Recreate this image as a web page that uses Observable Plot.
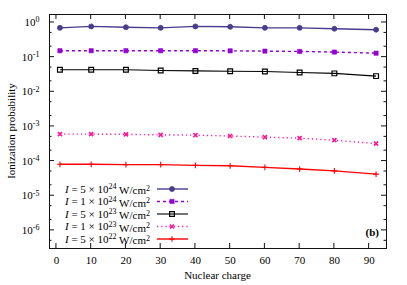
<!DOCTYPE html>
<html>
<head>
<meta charset="utf-8">
<script src="https://cdn.jsdelivr.net/npm/d3@7"></script>
<script src="https://cdn.jsdelivr.net/npm/@observablehq/plot@0.6"></script>
<style>
  html, body { margin: 0; padding: 0; background: #fff; }
  svg { display: block; }
  svg, svg text { font-family: "Liberation Serif", "Times New Roman", serif; }
</style>
</head>
<body>
<div id="chart"></div>
<script>
// ---- data ----
const charges = [1, 10, 20, 30, 40, 50, 60, 70, 80, 92];
const p5e24 = [0.70, 0.77, 0.73, 0.70, 0.77, 0.75, 0.70, 0.70, 0.66, 0.62];
const p1e24 = [0.153, 0.153, 0.153, 0.153, 0.153, 0.152, 0.149, 0.146, 0.140, 0.130];
const p5e23 = [0.0433, 0.0433, 0.0433, 0.041, 0.040, 0.039, 0.0386, 0.036, 0.034, 0.0283];
const p1e23 = [6.0e-4, 6.0e-4, 5.9e-4, 5.7e-4, 5.6e-4, 5.3e-4, 4.9e-4, 4.6e-4, 4.0e-4, 3.2e-4];
const p5e22 = [8.1e-5, 8.1e-5, 7.9e-5, 7.9e-5, 7.5e-5, 7.3e-5, 6.6e-5, 5.9e-5, 5.2e-5, 4.2e-5];

const seriesValues = [p5e24, p1e24, p5e23, p1e23, p5e22];
const seriesMantissa = ["5", "1", "5", "1", "5"];
const seriesExponent = ["24", "24", "23", "23", "22"];

const xTicks = [0, 10, 20, 30, 40, 50, 60, 70, 80, 90];
const yTicks = [1e0, 1e-1, 1e-2, 1e-3, 1e-4, 1e-5, 1e-6];
const yMinorFactors = [2, 5];

const xLabel = "Nuclear charge";
const yLabel = "Ionization probability";
const panelLabel = "(b)";

// ---- styles ----
const styles = [
  {color: "#483d8b", symbol: "circle", fill: true, dash: null, lw: 1.4, r: 2.5, sw: 0.8},
  {color: "#9400d3", symbol: "square", fill: true, dash: "3,3", lw: 1.4, r: 2.4, sw: 0.6},
  {color: "#000000", symbol: "square", fill: false, dash: null, lw: 1.1, r: 2.7, sw: 1.2},
  {color: "#ff1493", symbol: "times", fill: false, dash: "1.2,3", lw: 1.4, r: 2.0, sw: 1.6},
  {color: "#ff0000", symbol: "plus", fill: false, dash: null, lw: 1.4, r: 2.0, sw: 1.1}
];

const W = 407, H = 285;
const mL = 49, mR = 21, mT = 14, mB = 37;
const font = "Liberation Serif, Times New Roman, serif";

const rows = seriesValues.map(vals => charges.map((c, i) => ({c, p: vals[i]})));

const marks = [];
rows.forEach((data, s) => {
  const st = styles[s];
  marks.push(Plot.line(data, {x: "c", y: "p", stroke: st.color, strokeWidth: st.lw,
    strokeDasharray: st.dash, strokeLinecap: "butt"}));
});
rows.forEach((data, s) => {
  const st = styles[s];
  marks.push(Plot.dot(data, {x: "c", y: "p", symbol: st.symbol, r: st.r,
    fill: st.fill ? st.color : "none", stroke: st.color, strokeWidth: st.sw}));
});

const chart = Plot.plot({
  width: W, height: H,
  marginLeft: mL, marginRight: mR, marginTop: mT, marginBottom: mB,
  style: {fontFamily: font, fontSize: "11px", background: "#fff", color: "#000", overflow: "visible"},
  x: {domain: [-2, 95]},
  y: {type: "log", domain: [3e-7, 1.7]},
  marks: [
    Plot.axisX({ticks: xTicks, tickSize: 0, tickPadding: 8, label: null, fontSize: 11}),
    Plot.axisY({ticks: yTicks, tickSize: 0, tickPadding: 10, label: null, fontSize: 11,
      tickFormat: d => "10^" + Math.round(Math.log10(d))}),
    ...marks,
    Plot.frame({stroke: "#111", strokeWidth: 1})
  ]
});
document.getElementById("chart").appendChild(chart);

const svg = d3.select(chart);
const xs = chart.scale("x").apply, ys = chart.scale("y").apply;
const x0 = mL, x1 = W - mR, y0 = mT, y1 = H - mB;

// superscripts on y tick labels
svg.selectAll('g[aria-label="y-axis tick label"] text').each(function () {
  const t = this.textContent;
  const parts = t.split("^");
  if (parts.length !== 2) return;
  const el = d3.select(this);
  el.text(null);
  el.append("tspan").text(parts[0]);
  el.append("tspan").attr("dy", "-0.45em").attr("font-size", "8px").text(parts[1]);
});

// inward ticks on all four sides
const g = svg.append("g").attr("stroke", "#111").attr("stroke-width", 1);
function yTick(y, len) {
  g.append("line").attr("x1", x0).attr("x2", x0 + len).attr("y1", y).attr("y2", y);
  g.append("line").attr("x1", x1).attr("x2", x1 - len).attr("y1", y).attr("y2", y);
}
xTicks.forEach(v => {
  const x = xs(v);
  g.append("line").attr("x1", x).attr("x2", x).attr("y1", y1).attr("y2", y1 - 5);
  g.append("line").attr("x1", x).attr("x2", x).attr("y1", y0).attr("y2", y0 + 5);
});
[...yTicks, 1e-7].forEach(v => {
  const y = ys(v);
  if (y >= y0 && y <= y1) yTick(y, 5);
  yMinorFactors.forEach(f => {
    const ym = ys(v * f);
    if (ym >= y0 && ym <= y1) yTick(ym, 2.5);
  });
});

// axis titles
svg.append("text").attr("x", (x0 + x1) / 2).attr("y", 279).attr("text-anchor", "middle")
  .attr("font-family", font).attr("font-size", 11).text(xLabel);
svg.append("text").attr("transform", `translate(15,${(y0 + y1) / 2}) rotate(-90)`)
  .attr("text-anchor", "middle").attr("font-family", font).attr("font-size", 11).text(yLabel);

// panel label
svg.append("text").attr("x", 379).attr("y", 236).attr("text-anchor", "end")
  .attr("font-family", font).attr("font-size", 11).attr("font-weight", "bold").text(panelLabel);

// legend
const legY = [189, 201.5, 214, 226.5, 239];
const lg = svg.append("g").attr("font-family", font).attr("font-size", 11);
styles.forEach((st, s) => {
  const y = legY[s];
  const t = lg.append("text").attr("x", 150).attr("y", y + 3.8).attr("text-anchor", "end");
  t.append("tspan").attr("font-style", "italic").text("I");
  t.append("tspan").text(" = " + seriesMantissa[s] + " × 10");
  t.append("tspan").attr("dy", "-0.45em").attr("font-size", "8px").text(seriesExponent[s]);
  t.append("tspan").attr("dy", "0.45em").text(" W/cm");
  t.append("tspan").attr("dy", "-0.45em").attr("font-size", "8px").text("2");
  lg.append("line").attr("x1", 157).attr("x2", 188).attr("y1", y).attr("y2", y)
    .attr("stroke", st.color).attr("stroke-width", st.lw)
    .attr("stroke-dasharray", st.dash);
  const sym = {circle: d3.symbolCircle, square: d3.symbolSquare, times: d3.symbolTimes, plus: d3.symbolPlus}[st.symbol];
  const size = st.r * st.r * Math.PI;
  lg.append("path").attr("transform", `translate(172,${y})`)
    .attr("d", d3.symbol(sym, size)())
    .attr("fill", st.fill ? st.color : "none")
    .attr("stroke", st.color).attr("stroke-width", st.sw);
});
</script>
</body>
</html>
